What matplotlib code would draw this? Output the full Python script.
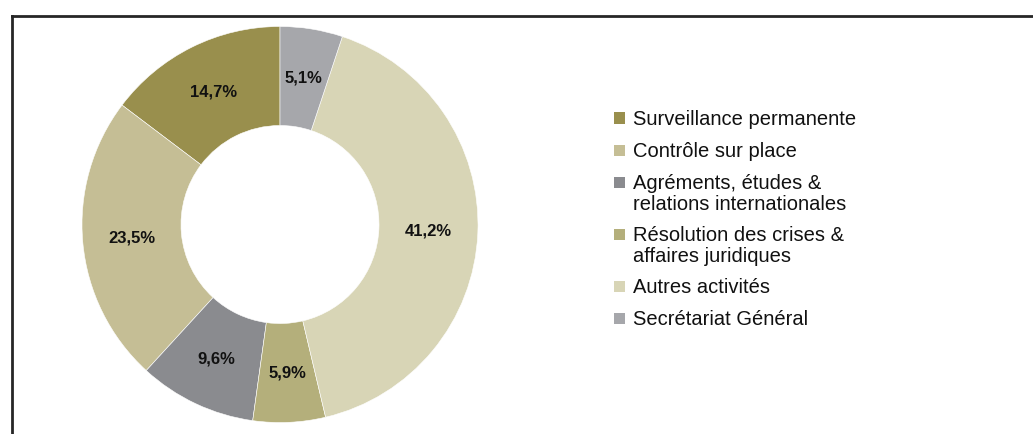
import matplotlib
matplotlib.use("Agg")
import matplotlib.pyplot as plt
from matplotlib.lines import Line2D
from matplotlib.patches import Rectangle

plt.rcParams['font.family'] = ['Liberation Sans', 'DejaVu Sans']

categories = [
    "Surveillance permanente",
    "Contrôle sur place",
    "Agréments, études &\nrelations internationales",
    "Résolution des crises &\naffaires juridiques",
    "Autres activités",
    "Secrétariat Général",
]
shares = [14.7, 23.5, 9.6, 5.9, 41.2, 5.1]
colors = ["#998f4d", "#c5be95", "#8a8b8f", "#b4af7b", "#d8d5b6", "#a6a7ab"]

W, H = 1033, 434
fig = plt.figure(figsize=(W / 100, H / 100), dpi=100)

# donut, centred at (280, 224) px from top-left
cx, cy, half = 280, 224.5, 200
ax = fig.add_axes([(cx - half) / W, (H - cy - half) / H, 2 * half / W, 2 * half / H])
ax.pie(shares, colors=colors, startangle=90, counterclock=True,
       radius=1.0, pctdistance=0.75,
       autopct=lambda p: f"{p:.1f}%".replace(".", ","),
       wedgeprops=dict(width=0.5, edgecolor="white", linewidth=0.4),
       textprops=dict(fontsize=12, fontweight="bold", color="#111111"))
ax.set_xlim(-1.01, 1.01)
ax.set_ylim(-1.01, 1.01)
ax.set_aspect("equal")
ax.axis("off")

# legend drawn by hand: square aligned with the first line of each label
line_h = 20
gap = 12
y = 118
for name, col in zip(categories, colors):
    nlines = name.count("\n") + 1
    sq = 11
    fig.patches.append(Rectangle((614 / W, (H - y - sq / 2) / H), sq / W, sq / H,
                                 transform=fig.transFigure, facecolor=col,
                                 edgecolor="none"))
    fig.text(633 / W, (H - y + 8) / H, name, fontsize=14.5, color="#111111",
             va="top", ha="left", linespacing=1.15)
    y += nlines * line_h + gap

# frame around the chart area (left and top edges visible)
frame_kw = dict(transform=fig.transFigure, color="#262626", linewidth=2,
                solid_capstyle="projecting")
fig.add_artist(Line2D([12 / W, 12 / W], [(H - 16) / H, -0.05], **frame_kw))
fig.add_artist(Line2D([12 / W, 1.05], [(H - 16) / H, (H - 16) / H], **frame_kw))

fig.savefig("out.png", dpi=100, facecolor="white")
